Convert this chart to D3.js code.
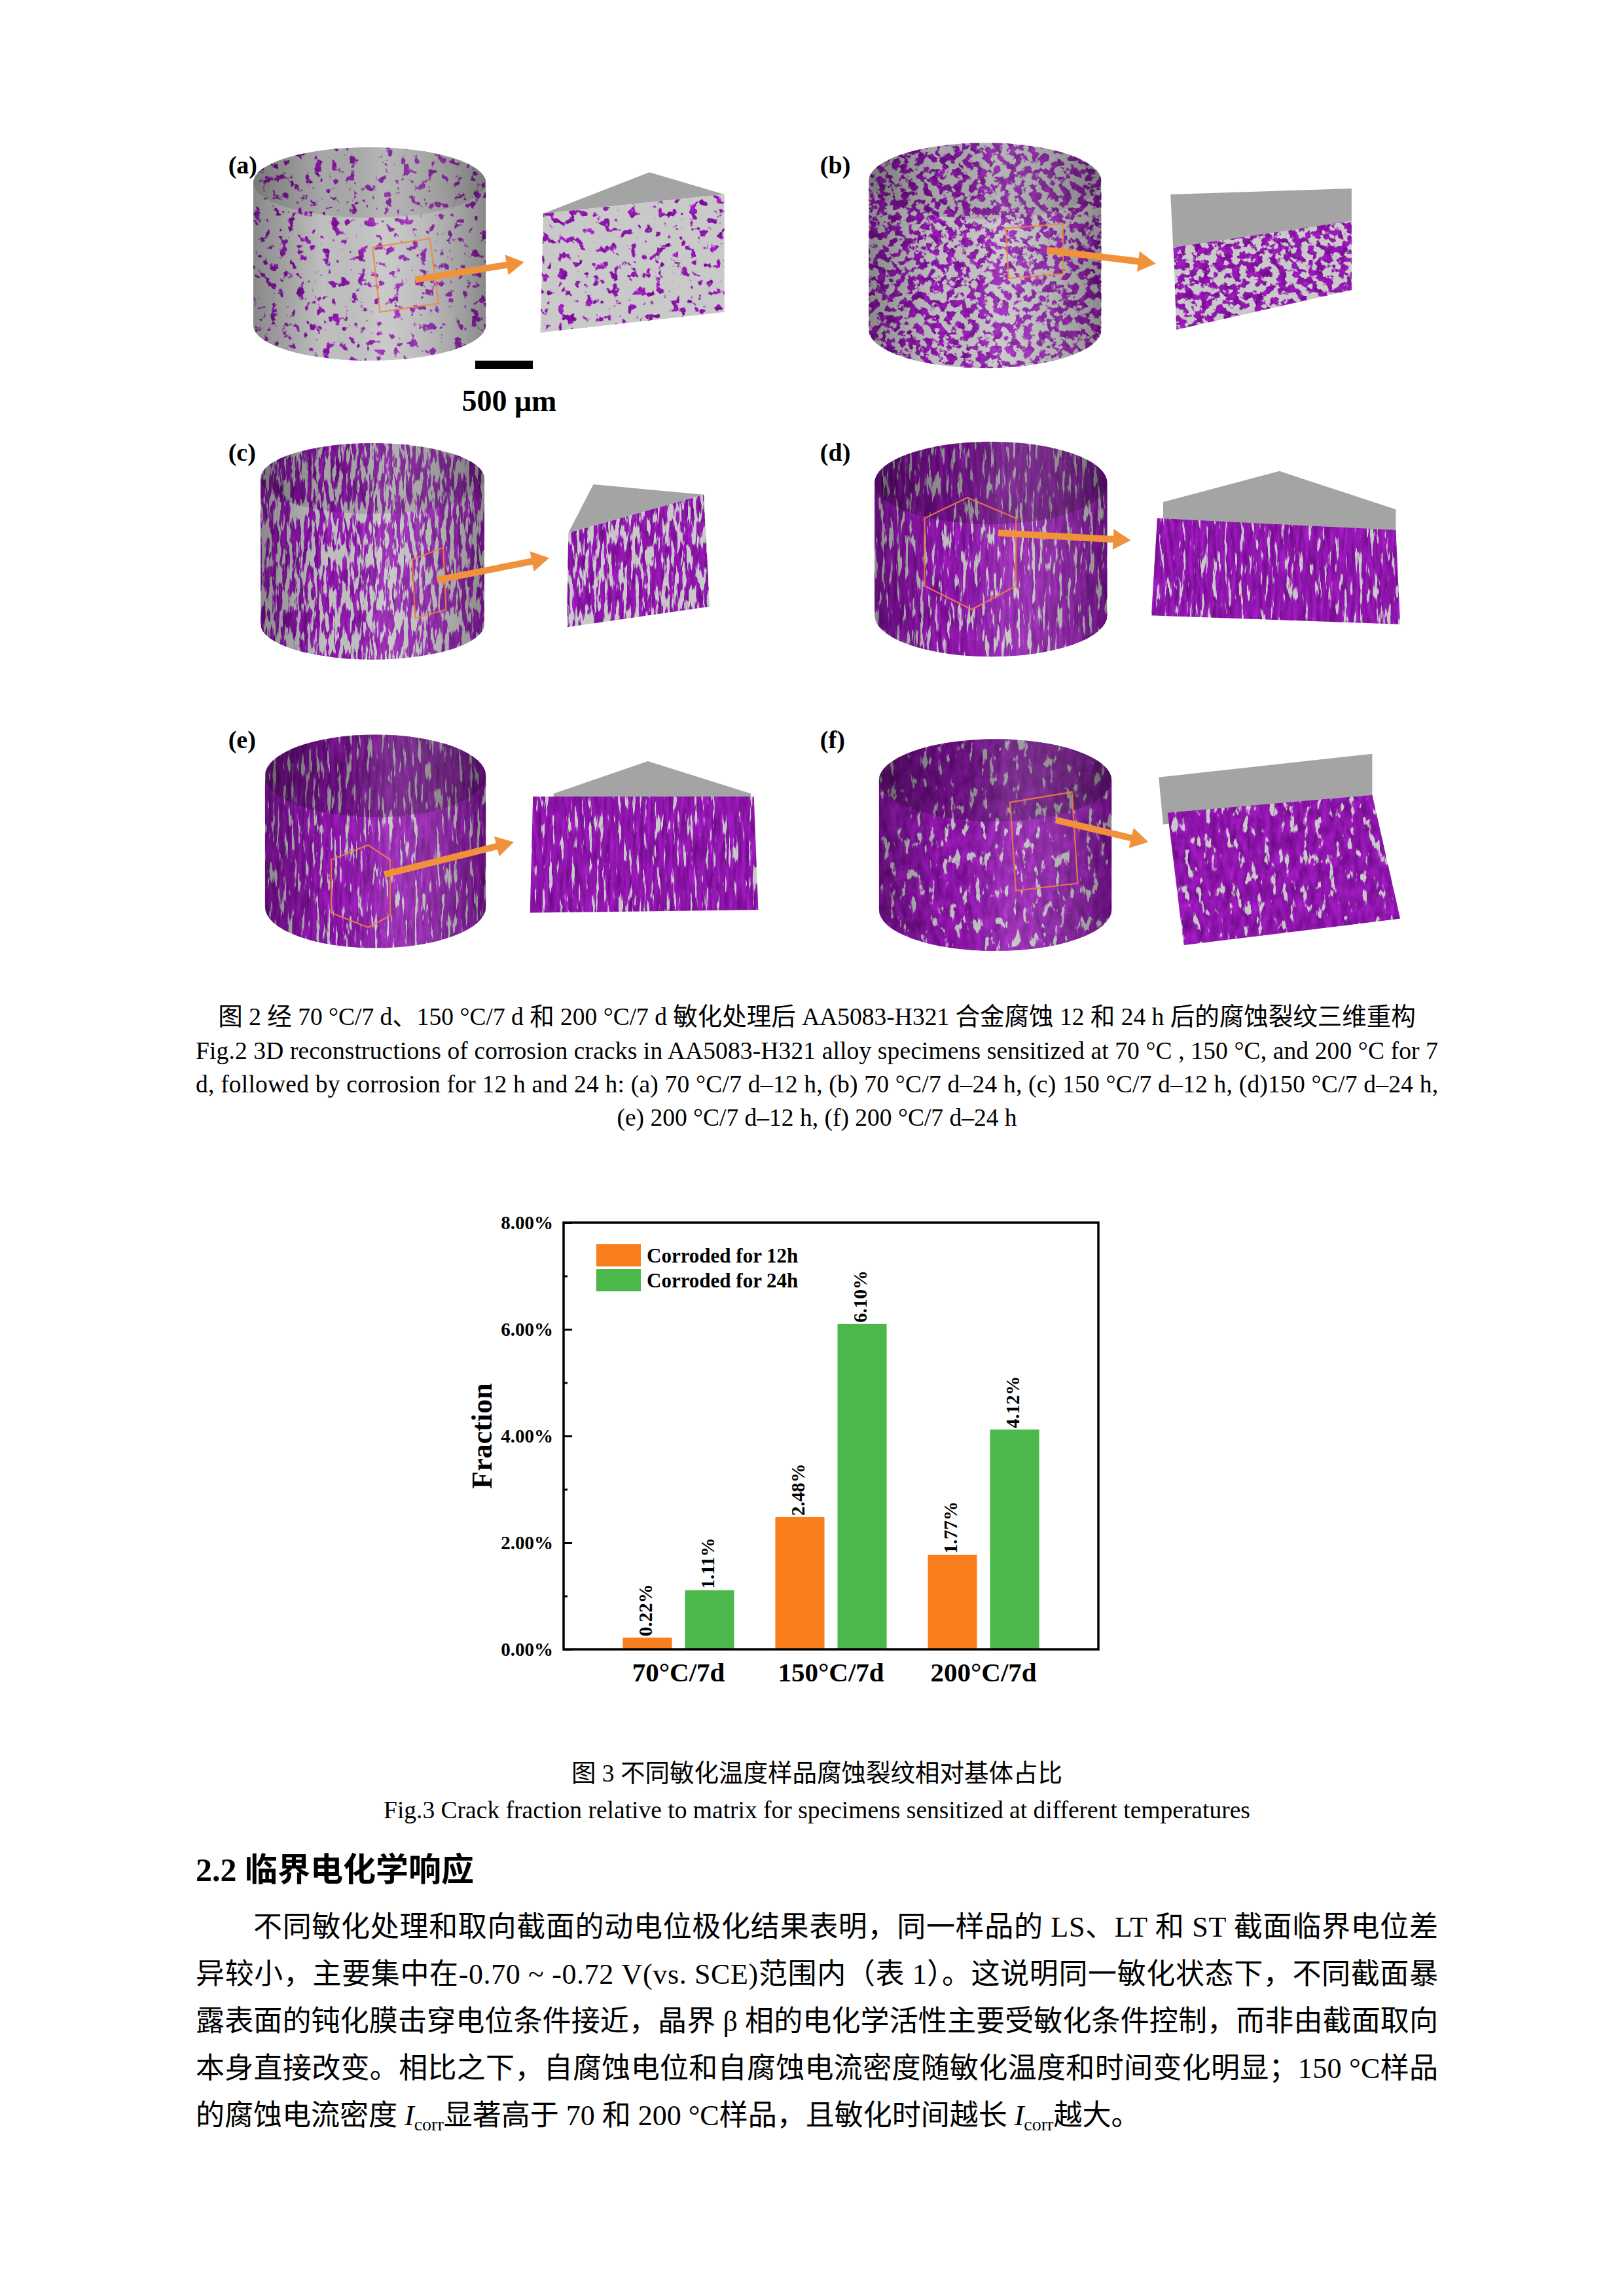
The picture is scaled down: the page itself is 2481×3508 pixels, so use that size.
<!DOCTYPE html>
<html>
<head>
<meta charset="utf-8">
<script src="https://cdn.jsdelivr.net/npm/d3@7"></script>
<style>
html, body { margin: 0; padding: 0; background: #fff; }
svg { display: block; }
</style>
</head>
<body>
<div id="page"></div>
<script>
"use strict";

//Fig.3 data
var categories = ["70°C/7d", "150°C/7d", "200°C/7d"];
var seriesNames = ["Corroded for 12h", "Corroded for 24h"];
var values12h = [0.22, 2.48, 1.77];
var values24h = [1.11, 6.10, 4.12];
var yTicks = [0, 2, 4, 6, 8];
var yMinorTicks = [1, 3, 5, 7];
var seriesColors = ["#fb7e1c", "#4cb84b"];

//Page
var W = 2481, H = 3508;
var S = W / 1103; //sketch units -> page pixels
var SERIF = "'Liberation Serif', 'Noto Sans CJK SC', serif";

var svg = d3.select("#page").append("svg")
    .attr("width", W)
    .attr("height", H)
    .attr("viewBox", "0 0 " + W + " " + H);

svg.append("rect").attr("width", W).attr("height", H).attr("fill", "#fff");
var defs = svg.append("defs");

//---------------- Fig.2 : sketches of the 3D reconstructions ----------------
//geometry in sketch units (1103 wide page), thr = purple coverage threshold
var panels = [
    {id: "a", label: [155, 118], cyl: [172, 100, 330, 245], ry: 24, freq: "0.075", thr: 0.6, seed: 3, topDark: 0.12,
     top: [[369, 145], [441, 117], [492, 132]], front: [[369, 145], [492, 132], [492, 212], [367, 226]], fthr: 0.6,
     arrow: [[282, 190], [356, 178]], box: [[253, 168], [292, 162], [298, 206], [258, 212]]},
    {id: "b", label: [557, 118], cyl: [590, 97, 748, 250], ry: 26, freq: "0.085", thr: 0.47, seed: 7, topDark: 0.12,
     top: [[795, 132], [918, 128], [918, 160], [797, 172]], front: [[797, 168], [918, 150], [918, 197], [799, 224]], fthr: 0.45,
     arrow: [[711, 170], [785, 179]], box: [[683, 155], [722, 152], [722, 186], [685, 189]]},
    {id: "c", label: [155, 313], cyl: [177, 301, 329, 448], ry: 24, freq: "0.17 0.03", thr: 0.44, seed: 11, topDark: 0.15,
     top: [[403, 329], [386, 362], [478, 336]], front: [[386, 362], [478, 336], [482, 412], [385, 426]], fthr: 0.42,
     arrow: [[297, 394], [373, 379]], box: [[280, 380], [301, 372], [303, 414], [282, 420]]},
    {id: "d", label: [557, 313], cyl: [594, 300, 752, 446], ry: 28, freq: "0.17 0.025", thr: 0.34, seed: 5, topDark: 0.25,
     top: [[790, 341], [869, 320], [948, 346], [948, 365], [790, 360]], front: [[786, 352], [948, 360], [951, 424], [782, 418]], fthr: 0.32,
     arrow: [[678, 362], [768, 367]], box: [[628, 352], [657, 338], [690, 352], [690, 398], [660, 414], [628, 398]]},
    {id: "e", label: [155, 508], cyl: [180, 499, 330, 644], ry: 28, freq: "0.18 0.025", thr: 0.33, seed: 13, topDark: 0.25,
     top: [[376, 539], [440, 517], [510, 539], [510, 548], [376, 548]], front: [[362, 541], [512, 541], [515, 618], [360, 620]], fthr: 0.31,
     arrow: [[261, 594], [349, 572]], box: [[225, 584], [250, 574], [265, 584], [265, 622], [250, 630], [225, 620]]},
    {id: "f", label: [557, 508], cyl: [597, 502, 755, 646], ry: 28, freq: "0.1 0.04", thr: 0.31, seed: 17, topDark: 0.25,
     top: [[787, 528], [932, 512], [932, 545], [790, 560]], front: [[793, 552], [932, 540], [951, 624], [804, 642]], fthr: 0.3,
     arrow: [[717, 557], [780, 572]], box: [[686, 545], [728, 538], [732, 600], [690, 605]]}
];

//purple crack texture: thresholded fractal noise
function makeTexture(id, freq, thr, seed) {
    var f = defs.append("filter").attr("id", id)
        .attr("x", 0).attr("y", 0).attr("width", 1).attr("height", 1)
        .attr("color-interpolation-filters", "sRGB");
    f.append("feTurbulence")
        .attr("type", "fractalNoise")
        .attr("baseFrequency", freq)
        .attr("numOctaves", 3)
        .attr("seed", seed);
    var k = 12;
    f.append("feColorMatrix").attr("type", "matrix")
        .attr("values", [
            "0 0.35 0 0 0.38",
            "0 0.12 0 0 0.02",
            "0 0.4 0 0 0.47",
            k + " 0 0 0 " + (-k * thr)
        ].join("  "));
}

var shade = defs.append("linearGradient").attr("id", "cylShade").attr("x1", 0).attr("x2", 1).attr("y1", 0).attr("y2", 0);
shade.append("stop").attr("offset", 0).attr("stop-color", "#000").attr("stop-opacity", 0.3);
shade.append("stop").attr("offset", 0.3).attr("stop-color", "#000").attr("stop-opacity", 0.02);
shade.append("stop").attr("offset", 0.55).attr("stop-color", "#fff").attr("stop-opacity", 0.12);
shade.append("stop").attr("offset", 1).attr("stop-color", "#000").attr("stop-opacity", 0.3);

function sc(pts) { return pts.map(function(p) { return [p[0] * S, p[1] * S]; }); }
var poly = d3.line();

var fig2 = svg.append("g").attr("class", "fig2");

panels.forEach(function(p) {
    makeTexture("tex-" + p.id, p.freq, p.thr, p.seed);
    makeTexture("texf-" + p.id, p.freq, p.fthr, p.seed + 20);

    var x0 = p.cyl[0] * S, y0 = p.cyl[1] * S, x1 = p.cyl[2] * S, y1 = p.cyl[3] * S;
    var rx = (x1 - x0) / 2, ry = p.ry * S;
    var silhouette = "M" + x0 + "," + (y0 + ry) +
        "A" + rx + "," + ry + " 0 0 1 " + x1 + "," + (y0 + ry) +
        "L" + x1 + "," + (y1 - ry) +
        "A" + rx + "," + ry + " 0 0 1 " + x0 + "," + (y1 - ry) + "Z";

    defs.append("clipPath").attr("id", "clip-" + p.id).append("path").attr("d", silhouette);

    var g = fig2.append("g").attr("clip-path", "url(#clip-" + p.id + ")");
    g.append("rect").attr("x", x0).attr("y", y0).attr("width", x1 - x0).attr("height", y1 - y0).attr("fill", "#c3c3c3");
    g.append("rect").attr("x", x0).attr("y", y0).attr("width", x1 - x0).attr("height", y1 - y0)
        .attr("filter", "url(#tex-" + p.id + ")");
    g.append("ellipse").attr("cx", x0 + rx).attr("cy", y0 + ry).attr("rx", rx).attr("ry", ry)
        .attr("fill", "#000").attr("opacity", p.topDark);
    g.append("rect").attr("x", x0).attr("y", y0).attr("width", x1 - x0).attr("height", y1 - y0).attr("fill", "url(#cylShade)");

    //orange marker box on the cylinder
    fig2.append("path").attr("d", poly(sc(p.box)) + "Z")
        .attr("fill", "none").attr("stroke", "#f0843c").attr("stroke-width", 2.2).attr("opacity", 0.85);

    //enlarged block
    var fpts = sc(p.front);
    fig2.append("path").attr("d", poly(sc(p.top)) + "Z").attr("fill", "#a4a4a4");
    fig2.append("path").attr("d", poly(fpts) + "Z").attr("fill", "#c9c9c9");
    var fx = d3.extent(fpts, function(d) { return d[0]; }), fy = d3.extent(fpts, function(d) { return d[1]; });
    defs.append("clipPath").attr("id", "fclip-" + p.id).append("path").attr("d", poly(fpts) + "Z");
    fig2.append("rect").attr("x", fx[0]).attr("y", fy[0]).attr("width", fx[1] - fx[0]).attr("height", fy[1] - fy[0])
        .attr("clip-path", "url(#fclip-" + p.id + ")")
        .attr("filter", "url(#texf-" + p.id + ")");

    //arrow
    var a = sc(p.arrow);
    var dx = a[1][0] - a[0][0], dy = a[1][1] - a[0][1], len = Math.sqrt(dx * dx + dy * dy);
    var ux = dx / len, uy = dy / len, hl = 12 * S, hw = 7 * S;
    var base = [a[1][0] - ux * hl, a[1][1] - uy * hl];
    fig2.append("line")
        .attr("x1", a[0][0]).attr("y1", a[0][1]).attr("x2", base[0] + ux * 2).attr("y2", base[1] + uy * 2)
        .attr("stroke", "#f0923b").attr("stroke-width", 4.5 * S);
    fig2.append("path")
        .attr("d", poly([a[1], [base[0] - uy * hw, base[1] + ux * hw], [base[0] + uy * hw, base[1] - ux * hw]]) + "Z")
        .attr("fill", "#f0923b");

    fig2.append("text")
        .attr("x", p.label[0] * S).attr("y", p.label[1] * S)
        .attr("font-family", SERIF).attr("font-weight", "bold").attr("font-size", 38)
        .text("(" + p.id + ")");
});

//scale bar
fig2.append("rect").attr("x", 726).attr("y", 551).attr("width", 88).attr("height", 13).attr("fill", "#000");
fig2.append("text").attr("x", 778).attr("y", 628).attr("text-anchor", "middle")
    .attr("font-family", SERIF).attr("font-weight", "bold").attr("font-size", 46)
    .text("500 μm");

//---------------- text helpers ----------------
var TEXT_L = 299, TEXT_R = 2197, TEXT_C = 1248;

function centered(y, s, size) {
    svg.append("text").attr("x", TEXT_C).attr("y", y).attr("text-anchor", "middle")
        .attr("font-family", SERIF).attr("font-size", size).text(s);
}
function justified(x, y, s, size) {
    svg.append("text").attr("x", x).attr("y", y)
        .attr("font-family", SERIF).attr("font-size", size)
        .attr("textLength", TEXT_R - x).attr("lengthAdjust", "spacing")
        .text(s);
}

//Fig.2 caption
centered(1566, "图 2 经 70 °C/7 d、150 °C/7 d 和 200 °C/7 d 敏化处理后 AA5083-H321 合金腐蚀 12 和 24 h 后的腐蚀裂纹三维重构", 37.5);
justified(TEXT_L, 1618, "Fig.2 3D reconstructions of corrosion cracks in AA5083-H321 alloy specimens sensitized at 70 °C , 150 °C, and 200 °C for 7", 37.5);
justified(TEXT_L, 1669, "d, followed by corrosion for 12 h and 24 h: (a) 70 °C/7 d–12 h, (b) 70 °C/7 d–24 h, (c) 150 °C/7 d–12 h, (d)150 °C/7 d–24 h,", 37.5);
centered(1720, "(e) 200 °C/7 d–12 h, (f) 200 °C/7 d–24 h", 37.5);

//---------------- Fig.3 : grouped bar chart ----------------
var plot = {left: 861, right: 1678, top: 1868, bottom: 2520};

var x0 = d3.scaleBand().domain(categories).range([plot.left, plot.right])
    .paddingInner(0.27).paddingOuter(0.388);
var x1 = d3.scaleBand().domain(seriesNames).range([0, x0.bandwidth()]).paddingInner(0.21);
var y = d3.scaleLinear().domain([0, 8]).range([plot.bottom, plot.top]);
var color = d3.scaleOrdinal().domain(seriesNames).range(seriesColors);

var rows = categories.map(function(c, i) {
    return {cat: c, vals: [
        {name: seriesNames[0], v: values12h[i]},
        {name: seriesNames[1], v: values24h[i]}
    ]};
});

var chart = svg.append("g").attr("class", "fig3")
    .attr("font-family", SERIF).attr("font-weight", "bold");

var groups = chart.selectAll("g.grp").data(rows).enter().append("g")
    .attr("class", "grp")
    .attr("transform", function(d) { return "translate(" + x0(d.cat) + ",0)"; });

groups.selectAll("rect").data(function(d) { return d.vals; }).enter().append("rect")
    .attr("x", function(d) { return x1(d.name); })
    .attr("y", function(d) { return y(d.v); })
    .attr("width", x1.bandwidth())
    .attr("height", function(d) { return y(0) - y(d.v); })
    .attr("fill", function(d) { return color(d.name); });

groups.selectAll("text.val").data(function(d) { return d.vals; }).enter().append("text")
    .attr("class", "val")
    .attr("transform", function(d) {
        return "translate(" + (x1(d.name) + x1.bandwidth() / 2 - 3) + "," + (y(d.v) - 2) + ") rotate(-90)";
    })
    .attr("dy", "0.35em")
    .attr("font-size", 29)
    .text(function(d) { return d.v.toFixed(2) + "%"; });

//frame
chart.append("rect")
    .attr("x", plot.left).attr("y", plot.top)
    .attr("width", plot.right - plot.left).attr("height", plot.bottom - plot.top)
    .attr("fill", "none").attr("stroke", "#000").attr("stroke-width", 3.5);

//y axis, ticks pointing in
var yAxis = chart.append("g").attr("transform", "translate(" + plot.left + ",0)")
    .call(d3.axisLeft(y).tickValues(yTicks).tickSize(-13).tickPadding(16)
        .tickFormat(function(d) { return d.toFixed(2) + "%"; }));
yAxis.select(".domain").remove();
yAxis.selectAll(".tick line").attr("stroke-width", 3);
yAxis.selectAll(".tick text").attr("font-size", 29).attr("font-family", SERIF).attr("font-weight", "bold").attr("fill", "#000");

var yMinor = chart.append("g").attr("transform", "translate(" + plot.left + ",0)")
    .call(d3.axisLeft(y).tickValues(yMinorTicks).tickSize(-6).tickFormat(""));
yMinor.select(".domain").remove();
yMinor.selectAll(".tick line").attr("stroke-width", 3);

//x axis labels only
var xAxis = chart.append("g").attr("transform", "translate(0," + plot.bottom + ")")
    .call(d3.axisBottom(x0).tickSize(0).tickPadding(20));
xAxis.select(".domain").remove();
xAxis.selectAll(".tick text").attr("font-size", 41).attr("font-family", SERIF).attr("font-weight", "bold").attr("fill", "#000");

chart.append("text")
    .attr("transform", "translate(751," + ((plot.top + plot.bottom) / 2) + ") rotate(-90)")
    .attr("text-anchor", "middle")
    .attr("font-size", 44)
    .text("Fraction");

//legend
var legend = chart.append("g").attr("transform", "translate(911,1901)");
var li = legend.selectAll("g").data(seriesNames).enter().append("g")
    .attr("transform", function(d, i) { return "translate(0," + i * 38 + ")"; });
li.append("rect").attr("width", 68).attr("height", 34).attr("fill", function(d) { return color(d); });
li.append("text").attr("x", 77).attr("y", 28).attr("font-size", 31).text(function(d) { return d; });

//Fig.3 caption
centered(2722, "图 3 不同敏化温度样品腐蚀裂纹相对基体占比", 37.5);
centered(2778, "Fig.3 Crack fraction relative to matrix for specimens sensitized at different temperatures", 37.5);

//---------------- section 2.2 ----------------
svg.append("text").attr("x", TEXT_L).attr("y", 2874)
    .attr("font-family", "'Liberation Serif', 'Noto Sans CJK SC', sans-serif")
    .attr("font-weight", "bold").attr("font-size", 50)
    .text("2.2 临界电化学响应");

var BODY = 44, lineY = [2959, 3031, 3103, 3175, 3247];
justified(387, lineY[0], "不同敏化处理和取向截面的动电位极化结果表明，同一样品的 LS、LT 和 ST 截面临界电位差", BODY);
justified(TEXT_L, lineY[1], "异较小，主要集中在-0.70 ~ -0.72 V(vs. SCE)范围内（表 1）。这说明同一敏化状态下，不同截面暴", BODY);
justified(TEXT_L, lineY[2], "露表面的钝化膜击穿电位条件接近，晶界 β 相的电化学活性主要受敏化条件控制，而非由截面取向", BODY);
justified(TEXT_L, lineY[3], "本身直接改变。相比之下，自腐蚀电位和自腐蚀电流密度随敏化温度和时间变化明显；150 °C样品", BODY);

var last = svg.append("text").attr("x", TEXT_L).attr("y", lineY[4])
    .attr("font-family", SERIF).attr("font-size", BODY);
last.append("tspan").text("的腐蚀电流密度 ");
last.append("tspan").attr("font-style", "italic").text("I");
last.append("tspan").attr("font-size", 28).attr("dy", 8).text("corr");
last.append("tspan").attr("dy", -8).text("显著高于 70 和 200 °C样品，且敏化时间越长 ");
last.append("tspan").attr("font-style", "italic").text("I");
last.append("tspan").attr("font-size", 28).attr("dy", 8).text("corr");
last.append("tspan").attr("dy", -8).text("越大。");
</script>
</body>
</html>
